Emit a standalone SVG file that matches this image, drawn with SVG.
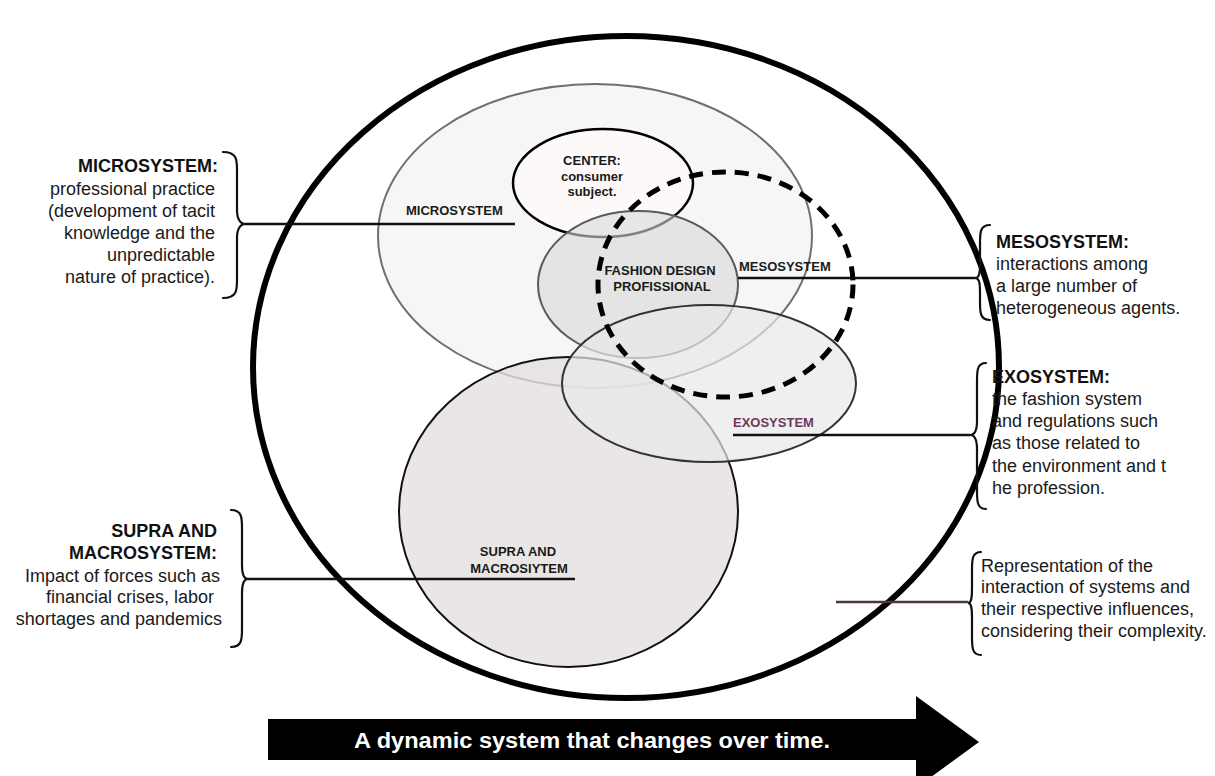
<svg xmlns="http://www.w3.org/2000/svg" width="1215" height="776" viewBox="0 0 1215 776">
<style>
.side{font-family:"Liberation Sans",Arial,sans-serif;font-size:18px;fill:#1a1a1a}
.sideb{font-family:"Liberation Sans",Arial,sans-serif;font-size:18px;font-weight:bold;fill:#111}
.lab{font-family:"Liberation Sans",Arial,sans-serif;font-size:13px;font-weight:bold;fill:#1a1a1a}
.brace{fill:none;stroke:#111;stroke-width:2.2;stroke-linecap:round}
.conn{stroke:#111;stroke-width:2.5;fill:none}
</style>
<rect width="1215" height="776" fill="#fff"/>
<g id="outer-circle">
<ellipse cx="626" cy="367" rx="373" ry="331" fill="none" stroke="#000" stroke-width="6"/>
</g>
<g id="microsystem">
<ellipse cx="595" cy="236" rx="217" ry="152" fill="#f6f6f6" stroke="#707070" stroke-width="2"/>
<text class="lab" x="406" y="215">MICROSYSTEM</text>
</g>
<g id="supra-macrosystem">
<ellipse cx="568.5" cy="512" rx="169.5" ry="155" fill="#e4dddd" fill-opacity="0.75" stroke="#111" stroke-width="2"/>
<text class="lab" x="518" y="556" text-anchor="middle">SUPRA AND</text>
<text class="lab" x="519" y="573" text-anchor="middle">MACROSIYTEM</text>
</g>
<g id="center">
<ellipse cx="603" cy="183" rx="90" ry="54" fill="#fdf9f9" stroke="#000" stroke-width="2.5"/>
<text class="lab" x="592" y="165" text-anchor="middle">CENTER:</text>
<text class="lab" x="592" y="181" text-anchor="middle">consumer</text>
<text class="lab" x="592" y="196" text-anchor="middle">subject.</text>
</g>
<g id="fashion-design-professional">
<ellipse cx="638" cy="284.5" rx="100" ry="73.5" fill="#d9d9d9" fill-opacity="0.6" stroke="#5a5a5a" stroke-width="2"/>
<text class="lab" x="660" y="275" text-anchor="middle">FASHION DESIGN</text>
<text class="lab" x="662" y="291" text-anchor="middle">PROFISSIONAL</text>
</g>
<g id="exosystem">
<ellipse cx="709" cy="383.5" rx="147" ry="78.5" fill="#e8e8e8" fill-opacity="0.7" stroke="#333" stroke-width="2"/>
<text class="lab" x="733" y="427" style="fill:#6b3a5e">EXOSYSTEM</text>
</g>
<g id="mesosystem">
<ellipse cx="725.5" cy="284.5" rx="127.5" ry="112.5" fill="none" stroke="#000" stroke-width="5" stroke-dasharray="14 9"/>
<text class="lab" x="739" y="271">MESOSYSTEM</text>
</g>
<g id="connectors">
<line class="conn" x1="245" y1="224" x2="515" y2="224"/>
<line class="conn" x1="738" y1="278" x2="975" y2="278"/>
<line class="conn" x1="733" y1="435" x2="970" y2="435"/>
<line class="conn" x1="248" y1="579" x2="575" y2="579"/>
<line x1="836" y1="602" x2="968" y2="602" stroke="#4f3447" stroke-width="2.5"/>
</g>
<g id="note-microsystem">
<path class="brace" d="M223,152 C237,152 237,160 237,170 L237,210 C237,220 241,224 245,224 C241,224 237,228 237,238 L237,280 C237,290 237,298 223,298"/>
<text class="sideb" x="218" y="172" text-anchor="end">MICROSYSTEM:</text>
<text class="side" x="215" y="195" text-anchor="end">professional practice</text>
<text class="side" x="215" y="217" text-anchor="end">(development of tacit</text>
<text class="side" x="215" y="239" text-anchor="end">knowledge and the</text>
<text class="side" x="215" y="261" text-anchor="end">unpredictable</text>
<text class="side" x="215" y="283" text-anchor="end">nature of practice).</text>
</g>
<g id="note-mesosystem">
<path class="brace" d="M990,225 C980,225 980,233 980,243 L980,264 C980,274 979,278 975,278 C979,278 980,282 980,292 L980,302 C980,312 980,320 990,320"/>
<text class="sideb" x="996" y="248">MESOSYSTEM:</text>
<text class="side" x="996" y="270">interactions among</text>
<text class="side" x="996" y="292">a large number of</text>
<text class="side" x="996" y="314">heterogeneous agents.</text>
</g>
<g id="note-exosystem">
<path class="brace" d="M986,363 C977,363 977,371 977,381 L977,421 C977,431 974,435 970,435 C974,435 977,439 977,449 L977,491 C977,501 977,509 986,509"/>
<text class="sideb" x="992" y="383">EXOSYSTEM:</text>
<text class="side" x="992" y="405">the fashion system</text>
<text class="side" x="992" y="427">and regulations such</text>
<text class="side" x="992" y="449">as those related to</text>
<text class="side" x="992" y="472">the environment and t</text>
<text class="side" x="992" y="494">he profession.</text>
</g>
<g id="note-supra">
<path class="brace" d="M231,510 C242,510 242,518 242,528 L242,565 C242,575 244,579 248,579 C244,579 242,583 242,593 L242,629 C242,639 242,647 231,647"/>
<text class="sideb" x="217" y="537" text-anchor="end">SUPRA AND</text>
<text class="sideb" x="217" y="559" text-anchor="end">MACROSYSTEM:</text>
<text class="side" x="220" y="582" text-anchor="end">Impact of forces such as</text>
<text class="side" x="214" y="603" text-anchor="end">financial crises, labor</text>
<text class="side" x="222" y="625" text-anchor="end">shortages and pandemics</text>
</g>
<g id="note-representation">
<path class="brace" d="M981,552 C972,552 972,560 972,570 L972,589 C972,599 971,603 968,603 C971,603 972,607 972,617 L972,637 C972,647 972,655 981,655"/>
<text class="side" x="981" y="572">Representation of the</text>
<text class="side" x="981" y="593">interaction of systems and</text>
<text class="side" x="981" y="615">their respective influences,</text>
<text class="side" x="981" y="637">considering their complexity.</text>
</g>
<g id="time-arrow">
<polygon points="268,719 916,719 916,696 979,742 916,788 916,760 268,760" fill="#000"/>
<text x="354" y="748" textLength="476" lengthAdjust="spacingAndGlyphs" style="font-family:'Liberation Sans',Arial,sans-serif;font-size:22.5px;font-weight:bold;fill:#fff">A dynamic system that changes over time.</text>
</g>
</svg>
